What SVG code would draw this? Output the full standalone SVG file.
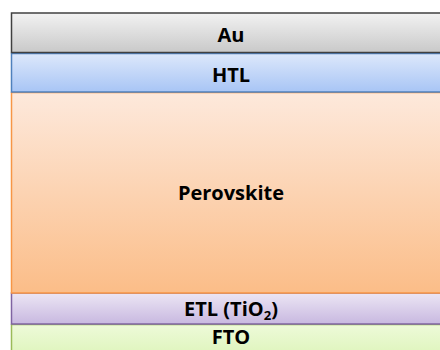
<svg xmlns="http://www.w3.org/2000/svg" width="440" height="350" viewBox="0 0 440 350">
<defs>
<linearGradient id="gAu" x1="0" y1="0" x2="0" y2="1"><stop offset="0" stop-color="#f2f2f2"/><stop offset="1" stop-color="#c9c9c9"/></linearGradient>
<linearGradient id="gHTL" x1="0" y1="0" x2="0" y2="1"><stop offset="0" stop-color="#dde8fb"/><stop offset="1" stop-color="#a8c5f5"/></linearGradient>
<linearGradient id="gPer" x1="0" y1="0" x2="0" y2="1"><stop offset="0" stop-color="#fde9dc"/><stop offset="1" stop-color="#fbbd88"/></linearGradient>
<linearGradient id="gETL" x1="0" y1="0" x2="0" y2="1"><stop offset="0" stop-color="#ece6f4"/><stop offset="1" stop-color="#c8b8e0"/></linearGradient>
<linearGradient id="gFTO" x1="0" y1="0" x2="0" y2="1"><stop offset="0" stop-color="#eefad9"/><stop offset="1" stop-color="#d9f3b3"/></linearGradient>
</defs>
<style>
text{font-family:"Open Sans","Noto Sans",sans-serif;font-weight:bold;font-size:20px;fill:#000;text-anchor:middle}
rect{stroke-width:1.5}
</style>
<rect width="440" height="350" fill="#fff"/>
<g id="FTO"><rect x="11.5" y="324.5" width="440" height="40" fill="url(#gFTO)" stroke="#9bbb59"/><text x="231" y="344" font-size="19">FTO</text></g>
<g id="ETL"><rect x="11.5" y="293" width="440" height="31" fill="url(#gETL)" stroke="#8064a2"/><text x="231" y="315.5">ETL (TiO<tspan font-size="13" dy="4">2</tspan><tspan dy="-4">)</tspan></text></g>
<g id="Perovskite"><rect x="11.5" y="92.5" width="440" height="200.5" fill="url(#gPer)" stroke="#f79646"/><text x="231" y="200">Perovskite</text></g>
<g id="HTL"><rect x="11.5" y="53.5" width="440" height="38.5" fill="url(#gHTL)" stroke="#4f81bd"/><text x="231" y="82">HTL</text></g>
<g id="Au"><rect x="11.5" y="13" width="440" height="39.5" fill="url(#gAu)" stroke="#404040"/><text x="231" y="41.5">Au</text></g>
<g id="connectors"/>
</svg>
